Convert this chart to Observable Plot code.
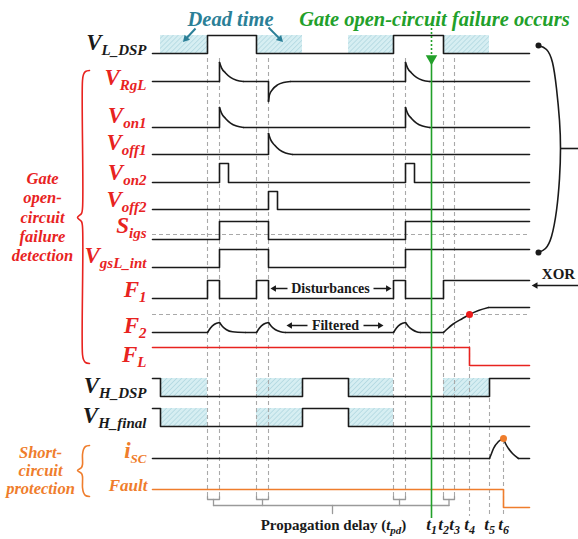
<!DOCTYPE html>
<html><head><meta charset="utf-8">
<script src="https://cdn.jsdelivr.net/npm/d3@7"></script>
<script src="https://cdn.jsdelivr.net/npm/@observablehq/plot@0.6"></script>
<style>html,body{margin:0;padding:0;background:#fff;} svg{display:block} svg text{font-family:"Liberation Serif","Times New Roman",serif !important;}</style>
</head><body><div id="chart"></div>
<script>
// ---- time axis (arbitrary units) ----
const edgeNames = ["a1","a2","a3","a4","b1","b2","t1","t2","t3","t4","t5","t6"];
const edgeTimes = [55,67,104,116,241,253,279,291,302,317,337,351];
const tEnd = 377;

// ---- rows ----
const rowNames  = ["VL_DSP","VRgL","Von1","Voff1","Von2","Voff2","Sigs","VgsL_int","F1","F2","FL","VH_DSP","VH_final","iSC","Fault"];
const rowLabels = ["V|L_DSP","V|RgL","V|on1","V|off1","V|on2","V|off2","S|igs","V|gsL_int","F|1","F|2","F|L","V|H_DSP","V|H_final","i|SC","Fault"];
const rowBase   = [53,81,127,154,182,209,239,267,298,332,365,396,426,458,507];
const rowAmp    = [18,19,20,21,19,18,18,18,18,25,18,18,18,20,18];
const labelBaseline = [50,85,123,150,180,207,233,263,297,333,362,393,423,458,490];
const BLACK = "#1a1a1a", RED = "#e8231f", ORANGE = "#ef7d2c", GREEN = "#22a02a", TEAL = "#2b7f97", GRAY = "#a9a9a9";
const rowStroke = [BLACK,BLACK,BLACK,BLACK,BLACK,BLACK,BLACK,BLACK,BLACK,BLACK,RED,BLACK,BLACK,BLACK,ORANGE];
const labelColor = [BLACK,RED,RED,RED,RED,RED,RED,RED,RED,RED,RED,BLACK,BLACK,ORANGE,ORANGE];

// ---- signals: segments of [time, level]; "L" straight, "C" smooth ----
const sVL_DSP = [["L",[[0,0],[55,0],[55,1],[104,1],[104,0],[241,0],[241,1],[291,1],[291,0],[377,0]]]];
const sVRgL = [
  ["L",[[0,0],[67,0],[67,1]]],
  ["C",[[67,1],[69,0.72],[73,0.45],[78,0.22],[84,0.07],[91,0]]],
  ["L",[[91,0],[116,0],[116,-1.05]]],
  ["C",[[116,-1.05],[117,-0.7],[120,-0.42],[125,-0.18],[131,-0.05],[138,0]]],
  ["L",[[138,0],[253,0],[253,1]]],
  ["C",[[253,1],[255,0.72],[259,0.45],[264,0.22],[270,0.07],[277,0]]],
  ["L",[[277,0],[377,0]]]];
const sVon1 = [
  ["L",[[0,0],[67,0],[67,1]]],
  ["C",[[67,1],[69,0.72],[73,0.45],[78,0.22],[84,0.07],[91,0]]],
  ["L",[[91,0],[253,0],[253,1]]],
  ["C",[[253,1],[255,0.72],[259,0.45],[264,0.22],[270,0.07],[277,0]]],
  ["L",[[277,0],[377,0]]]];
const sVoff1 = [
  ["L",[[0,0],[116,0],[116,1]]],
  ["C",[[116,1],[118,0.72],[122,0.45],[127,0.22],[133,0.07],[140,0]]],
  ["L",[[140,0],[377,0]]]];
const sVon2 = [["L",[[0,0],[67,0],[67,1],[76,1],[76,0],[253,0],[253,1],[262,1],[262,0],[377,0]]]];
const sVoff2 = [["L",[[0,0],[116,0],[116,1],[125,1],[125,0],[377,0]]]];
const sSigs = [["L",[[0,0],[67,0],[67,1],[116,1],[116,0],[253,0],[253,1],[377,1]]]];
const sVgsL_int = [["L",[[0,0],[67,0],[67,1],[116,1],[116,0],[253,0],[253,1],[377,1]]]];
const sF1 = [["L",[[0,0],[55,0],[55,1],[67,1],[67,0],[104,0],[104,1],[116,1],[116,0],[241,0],[241,1],[253,1],[253,0],[291,0],[291,1],[377,1]]]];
const sF2 = [
  ["L",[[0,0],[55,0]]],
  ["C",[[55,0],[58,0.18],[62,0.33],[67,0.4]]],
  ["C",[[67,0.4],[70,0.24],[74,0.11],[80,0.03],[93,0]]],
  ["L",[[93,0],[104,0]]],
  ["C",[[104,0],[107,0.18],[111,0.33],[116,0.4]]],
  ["C",[[116,0.4],[119,0.24],[123,0.11],[128,0.03],[133,0]]],
  ["L",[[133,0],[241,0]]],
  ["C",[[241,0],[244,0.18],[248,0.33],[253,0.4]]],
  ["C",[[253,0.4],[256,0.24],[260,0.11],[264,0.03],[268,0]]],
  ["L",[[268,0],[291,0]]],
  ["C",[[291,0],[295,0.15],[300,0.32],[310,0.56],[317,0.72],[326,0.88],[336,1]]],
  ["L",[[336,1],[377,1]]]];
const sFL = [["L",[[0,1],[317,1],[317,0],[377,0]]]];
const sVH_DSP = [["L",[[0,1],[8,1],[8,0],[150,0],[150,1],[196,1],[196,0],[337,0],[337,1],[377,1]]]];
const sVH_final = [["L",[[0,1],[8,1],[8,0],[150,0],[150,1],[196,1],[196,0],[377,0]]]];
const sISC = [
  ["L",[[0,0],[337,0]]],
  ["C",[[337,0],[339,0.25],[341,0.5],[346,0.85],[351,1]]],
  ["C",[[351,1],[353,0.75],[356,0.5],[360,0.25],[366,0]]],
  ["L",[[366,0],[377,0]]]];
const sFault = [["L",[[0,1],[351,1],[351,0],[377,0]]]];
const signalSegs = [sVL_DSP,sVRgL,sVon1,sVoff1,sVon2,sVoff2,sSigs,sVgsL_int,sF1,sF2,sFL,sVH_DSP,sVH_final,sISC,sFault];

// ---- hatched intervals ----
const hatchRows = ["VL_DSP","VH_DSP","VH_final"];
const hatchVL = [[8,55],[104,150],[196,241],[291,337]];
const hatchVH = [[8,55],[104,150],[196,241],[291,337]];
const hatchVHf = [[8,55],[104,150],[196,241]];

// ---- dashed reference levels ----
const refRows = ["Sigs","F2"];
const refLevels = [0.28,0.72];

// ---- guide lines (time, top, bottom) ----
const guideTimes = [55,67,104,116,241,253,291,302,317,337,351];
const guideTop   = [58,58,58,58,58,58,58,58,318,398,440];
const guideBot   = [497,497,497,497,497,497,497,497,516,516,516];
const bracketPairs = [[55,67],[104,116],[241,253],[291,302]];
const tLabels = ["t|1","t|2","t|3","t|4","t|5","t|6"];
const tLabelTimes = [279,291,302,317,337,351];

// ---- markers ----
const dotF2 = [317,0.72];
const dotISC = [351,1];

// ================= build tables =================
const idx = n => rowNames.indexOf(n);
const yOf = (n, lv) => rowBase[idx(n)] - lv * rowAmp[idx(n)];
const lineRows = [];
signalSegs.forEach((segs, i) => {
  const name = rowNames[i];
  segs.forEach(([kind, pts], j) => pts.forEach(([t, lv]) =>
    lineRows.push({key: name + j, kind, t, y: yOf(name, lv), stroke: rowStroke[i]})));
});
const hatchData = [];
[[hatchRows[0],hatchVL],[hatchRows[1],hatchVH],[hatchRows[2],hatchVHf]].forEach(([n, iv]) =>
  iv.forEach(([a,b]) => hatchData.push({t1:a, t2:b, y1:yOf(n,1), y2:yOf(n,0)})));
const refData = refRows.map((n,i) => ({y: yOf(n, refLevels[i])}));
const guides = guideTimes.map((t,i) => ({t, top: guideTop[i], bot: guideBot[i]}));
const labels = rowLabels.map((s,i) => ({s, y: labelBaseline[i], c: labelColor[i]}));
const subLabels = labels.filter(d => d.s.includes("|"));
const plainLabels = labels.filter(d => !d.s.includes("|"));

const brLines = [];
bracketPairs.forEach(([a,b],i) => {
  [[a,496],[a,499],[b,499],[b,496]].forEach(([t,y]) => brLines.push({k:"b"+i, t, y}));
  [[(a+b)/2,499],[(a+b)/2,505]].forEach(([t,y]) => brLines.push({k:"s"+i, t, y}));
});
const c0 = (bracketPairs[0][0]+bracketPairs[0][1])/2, c3 = (bracketPairs[3][0]+bracketPairs[3][1])/2;
brLines.push({k:"h",t:c0,y:505},{k:"h",t:c3,y:505},{k:"v",t:180,y:505},{k:"v",t:180,y:513});

const braceRed = [[-63,70],[-67,71],[-69,74],[-70,80],[-70,208],[-71,213],[-75,217],[-71,221],[-70,226],[-70,354],[-69,359],[-67,362],[-63,363]];
const braceOrange = [[-63,445],[-67,446],[-69,449],[-70,454],[-70,464],[-71,467],[-75,470],[-71,473],[-70,476],[-70,487],[-69,492],[-67,495],[-63,496]];
const braceRight = [[386,45],[394,49],[400,62],[404,88],[407,120],[408,148],[407,178],[404,210],[399,236],[393,248],[386,252]];

// annotation arrows: tail -> tip
const arrows = [
  {x1:43,y1:28,x2:30,y2:42,c:TEAL,w:2,r:5.5},
  {x1:116,y1:27,x2:131,y2:42,c:TEAL,w:2,r:5.5},
  {x1:135,y1:288,x2:118,y2:288,c:BLACK,w:1.5,r:4},
  {x1:221,y1:288,x2:239,y2:288,c:BLACK,w:1.5,r:4},
  {x1:155,y1:325,x2:134,y2:325,c:BLACK,w:1.5,r:4},
  {x1:211,y1:325,x2:231,y2:325,c:BLACK,w:1.5,r:4},
  {x1:426,y1:285,x2:379,y2:285,c:BLACK,w:1.5,r:4.5}
];
const unit = d => { const dx = d.x2-d.x1, dy = d.y2-d.y1, L = Math.hypot(dx,dy); return [dx/L, dy/L]; };
const heads = arrows.map(d => { const [ux,uy] = unit(d); return {x: d.x2 - ux*d.r*0.9, y: d.y2 - uy*d.r*0.9, rot: Math.atan2(ux, -uy)*180/Math.PI, c: d.c, r: d.r}; });
const shafts = arrows.map(d => { const [ux,uy] = unit(d); return {...d, x2: d.x2 - ux*d.r, y2: d.y2 - uy*d.r}; });

const F = "'Liberation Serif', 'Times New Roman', serif";
const T = {fontFamily: F};
const svg = Plot.plot({
  width: 578, height: 539, margin: 0,
  x: {domain: [0, tEnd], range: [152, 529], axis: null},
  y: {domain: [0, 539], range: [0, 539], axis: null},
  color: {type: "identity"},
  style: {background: "white", fontFamily: F},
  marks: [
    Plot.rect(hatchData, {x1:"t1", x2:"t2", y1:"y1", y2:"y2", fill:"url(#hatch)"}),
    Plot.ruleX(guides, {x:"t", y1:"top", y2:"bot", stroke:GRAY, strokeWidth:1.1, strokeDasharray:"4,3"}),
    Plot.ruleY(refData, {y:"y", x1:() => 0, x2:() => tEnd, stroke:GRAY, strokeWidth:1.1, strokeDasharray:"4,3"}),
    Plot.line(brLines, {x:"t", y:"y", z:"k", stroke:"#9a9a9a", strokeWidth:1.3}),
    Plot.line(lineRows.filter(d => d.kind === "L"), {x:"t", y:"y", z:"key", stroke:"stroke", strokeWidth:1.6}),
    Plot.line(lineRows.filter(d => d.kind === "C"), {x:"t", y:"y", z:"key", stroke:"stroke", strokeWidth:1.6, curve:"monotone-x"}),
    Plot.dot([dotF2], {x:d => d[0], y:d => yOf("F2", d[1]), r:3.5, fill:"#ee1c1c"}),
    Plot.dot([dotISC], {x:d => d[0], y:d => yOf("iSC", d[1]), r:3.5, fill:ORANGE}),
    // green failure marker
    Plot.ruleX([279], {x:d => d, y1:() => 28, y2:() => 55, stroke:GREEN, strokeWidth:1.6, strokeDasharray:"2,2"}),
    Plot.dot([279], {x:d => d, y:() => 58, symbol:"triangle2", rotate:180, r:5.5, fill:GREEN}),
    Plot.ruleX([279], {x:d => d, y1:() => 62, y2:() => 518, stroke:GREEN, strokeWidth:1.6}),
    // braces
    Plot.line(braceRed, {x:d => d[0], y:d => d[1], stroke:RED, strokeWidth:1.6, curve:"catmull-rom"}),
    Plot.line(braceOrange, {x:d => d[0], y:d => d[1], stroke:ORANGE, strokeWidth:1.6, curve:"catmull-rom"}),
    Plot.line(braceRight, {x:d => d[0], y:d => d[1], stroke:BLACK, strokeWidth:1.6, curve:"natural"}),
    Plot.ruleY([148], {y:d => d, x1:() => 408, x2:() => 430, stroke:BLACK, strokeWidth:1.6}),
    Plot.dot([[386,45],[386,252]], {x:d => d[0], y:d => d[1], r:3, fill:BLACK}),
    Plot.link(shafts, {x1:"x1", y1:"y1", x2:"x2", y2:"y2", stroke:"c", strokeWidth:"w"}),
    Plot.dot(heads, {x:"x", y:"y", r:"r", rotate:"rot", symbol:"triangle2", fill:"c"}),
    // row labels
    Plot.text(subLabels, {...T, x:() => -6, y:d => d.y - 7.4, text:"s", fill:"c", textAnchor:"end", fontSize:23, fontWeight:"bold", fontStyle:"italic"}),
    Plot.text(plainLabels, {...T, x:() => -5, y:d => d.y - 5.4, text:"s", fill:"c", textAnchor:"end", fontSize:17, fontWeight:"bold", fontStyle:"italic"}),
    // group labels
    Plot.text(["Gate\nopen-\ncircuit\nfailure\ndetection"], {...T, x:() => -110, y:() => 216, text:d => d, fill:RED, fontSize:16.5, lineHeight:1.17, fontWeight:"bold", fontStyle:"italic"}),
    Plot.text(["Short-\ncircuit\nprotection"], {...T, x:() => -112, y:() => 470, text:d => d, fill:ORANGE, fontSize:16.5, lineHeight:1.1, fontWeight:"bold", fontStyle:"italic"}),
    // annotations
    Plot.text(["Dead time"], {...T, x:() => 78, y:() => 18.5, text:d => d, fill:TEAL, fontSize:20.5, fontWeight:"bold", fontStyle:"italic"}),
    Plot.text(["Gate open-circuit failure occurs"], {...T, x:() => 282, y:() => 18.5, text:d => d, fill:GREEN, fontSize:20.5, fontWeight:"bold", fontStyle:"italic"}),
    Plot.text(["Disturbances"], {...T, x:() => 178, y:() => 288, text:d => d, fill:BLACK, fontSize:14, fontWeight:"bold"}),
    Plot.text(["Filtered"], {...T, x:() => 183, y:() => 325, text:d => d, fill:BLACK, fontSize:14, fontWeight:"bold"}),
    Plot.text(["XOR"], {...T, x:() => 406, y:() => 274, text:d => d, fill:BLACK, fontSize:15, fontWeight:"bold"}),
    Plot.text(tLabels, {...T, x:(d,i) => tLabelTimes[i], y:() => 524.5, text:d => d, fill:BLACK, fontSize:17, fontWeight:"bold", fontStyle:"italic"}),
    Plot.text(["Propagation delay (|t|pd|)"], {...T, x:() => 181, y:() => 525, text:d => d, fill:BLACK, fontSize:15, fontWeight:"bold"})
  ]
});

const NS = "http://www.w3.org/2000/svg";
const defs = document.createElementNS(NS, "defs");
defs.innerHTML = '<pattern id="hatch" patternUnits="userSpaceOnUse" width="3.5" height="3.5" patternTransform="rotate(45)">' +
  '<rect width="3.5" height="3.5" fill="#d6eef2"/><line x1="0" y1="0" x2="0" y2="3.5" stroke="#a6d1db" stroke-width="1.2"/></pattern>';
svg.insertBefore(defs, svg.firstChild);

function tspan(txt, attrs) {
  const ts = document.createElementNS(NS, "tspan");
  for (const k in attrs) ts.setAttribute(k, attrs[k]);
  ts.textContent = txt;
  return ts;
}
svg.querySelectorAll("text").forEach(t => {
  const s = t.textContent;
  if (!s.includes("|")) return;
  const parts = s.split("|");
  t.textContent = parts[0];
  if (parts.length === 4) {            // Propagation delay (t_pd)
    t.append(tspan(parts[1], {"font-style":"italic"}),
             tspan(parts[2], {"font-style":"italic", "font-size":11, dy:4}),
             tspan(parts[3], {dy:-4}));
  } else if (parts[0] === "t") {        // t1..t6
    t.append(tspan(parts[1], {"font-size":12, dy:4}));
  } else {                              // row labels
    t.append(tspan(parts[1], {"font-size": parts[0] === "i" ? 13 : 15, dy:5}));
  }
});
document.getElementById("chart").appendChild(svg);
</script></body></html>
